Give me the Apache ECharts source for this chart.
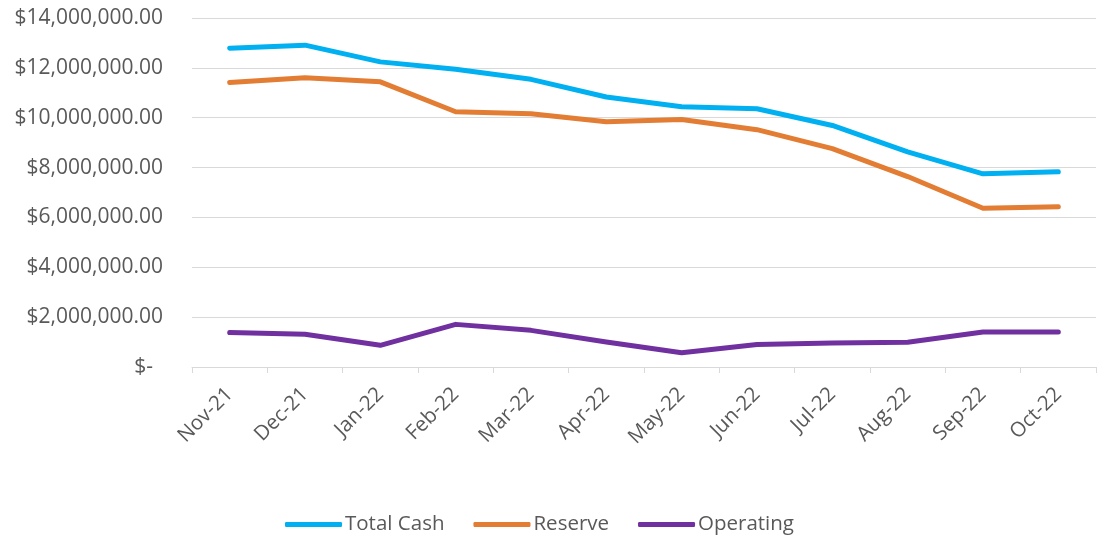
<!DOCTYPE html>
<html>
<head>
<meta charset="utf-8">
<script src="https://cdn.jsdelivr.net/npm/echarts@6/dist/echarts.min.js"></script>
<style>html,body{margin:0;padding:0;background:#fff;}#c{width:1097px;height:537px;}</style>
</head>
<body>
<div id="c"></div>
<script>
const categories = ['Nov-21','Dec-21','Jan-22','Feb-22','Mar-22','Apr-22','May-22','Jun-22','Jul-22','Aug-22','Sep-22','Oct-22'];
const totalCash = [12790000,12910000,12240000,11940000,11540000,10830000,10440000,10360000,9690000,8630000,7750000,7830000];
const reserve   = [11410000,11600000,11440000,10240000,10160000,9840000,9930000,9520000,8760000,7640000,6370000,6430000];
const operating = [1380000,1310000,870000,1710000,1470000,1000000,570000,900000,960000,990000,1400000,1400000];
const yTicks = [0,2000000,4000000,6000000,8000000,10000000,12000000,14000000];

const FONT = "'Open Sans', 'Noto Sans', sans-serif";
const TXT = '#595959';
function fmt(v){
  if (v === 0) return '{z|$-}';
  return '$' + v.toLocaleString('en-US',{minimumFractionDigits:2,maximumFractionDigits:2});
}
const chart = echarts.init(document.getElementById('c'));
chart.setOption({
  animation:false,
  grid:{left:192,right:1,top:18,bottom:170,containLabel:false},
  legend:{
    top:509, left:280,
    itemWidth:57, itemHeight:5, itemGap:29,
    icon:'roundRect',
    textStyle:{color:TXT,fontFamily:FONT,fontSize:20.5,padding:[0,0,0,-2]},
    data:['Total Cash','Reserve','Operating']
  },
  xAxis:{
    type:'category', data:categories, boundaryGap:true,
    axisLine:{lineStyle:{color:'#D9D9D9',width:1}},
    axisTick:{show:true,length:6,lineStyle:{color:'#D9D9D9'}},
    axisLabel:{rotate:45,color:TXT,fontFamily:FONT,fontSize:20.5,margin:24,interval:0}
  },
  yAxis:{
    type:'value', min:yTicks[0], max:yTicks[yTicks.length-1], interval:yTicks[1]-yTicks[0],
    axisLine:{show:false}, axisTick:{show:false},
    splitLine:{lineStyle:{color:'#D9D9D9',width:1}},
    axisLabel:{color:TXT,fontFamily:FONT,fontSize:21,margin:29,formatter:fmt,
      rich:{z:{color:TXT,fontFamily:FONT,fontSize:21,padding:[0,10,0,0]}}}
  },
  series:[
    {name:'Total Cash',type:'line',data:totalCash,showSymbol:false,symbol:'none',
      lineStyle:{color:'#00B0F0',width:5,cap:'round',join:'round'},itemStyle:{color:'#00B0F0'}},
    {name:'Reserve',type:'line',data:reserve,showSymbol:false,symbol:'none',
      lineStyle:{color:'#E27D33',width:5,cap:'round',join:'round'},itemStyle:{color:'#E27D33'}},
    {name:'Operating',type:'line',data:operating,showSymbol:false,symbol:'none',
      lineStyle:{color:'#7030A0',width:5,cap:'round',join:'round'},itemStyle:{color:'#7030A0'}}
  ]
});
</script>
</body>
</html>
